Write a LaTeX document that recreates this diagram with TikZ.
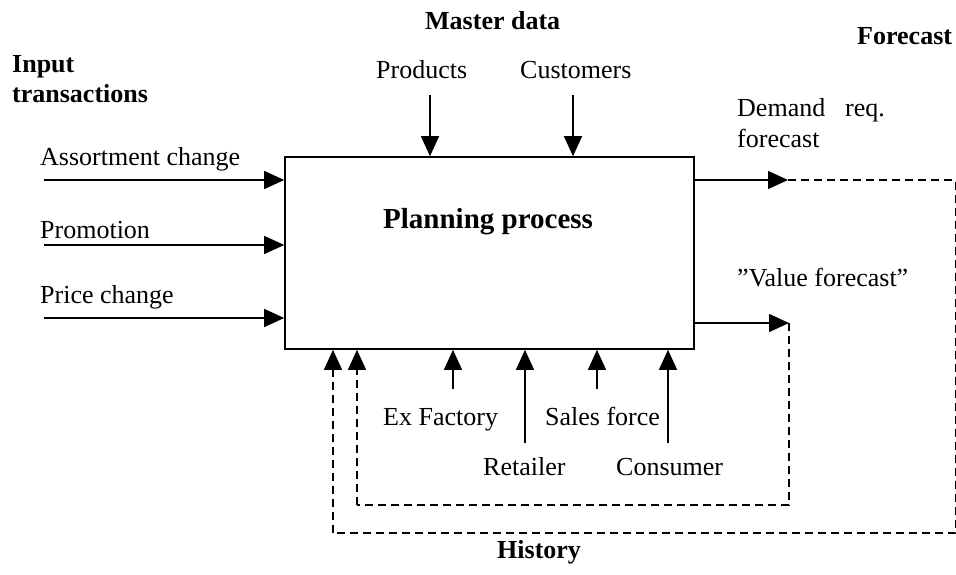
\documentclass[tikz,border=0pt]{standalone}
\usepackage{fontspec}
\setmainfont{Liberation Serif}
\usetikzlibrary{arrows.meta}
\tikzset{
  txt/.style={font=\fontsize{26}{31}\selectfont, inner sep=0pt, anchor=base west},
  head/.style={font=\fontsize{26}{31}\selectfont\bfseries, inner sep=0pt, anchor=base west},
  arr/.style={line width=1.4pt, -{Triangle[length=20pt,width=18pt]}},
  solidline/.style={line width=1.4pt},
  dashline/.style={line width=1.4pt, dash pattern=on 8pt off 5pt},
  dasharr/.style={line width=1.4pt, dash pattern=on 8pt off 5pt, -{Triangle[length=20pt,width=18pt]}},
}
\begin{document}
\begin{tikzpicture}[x=1pt,y=-1pt]
\useasboundingbox (0,0) rectangle (956,575);
% main box
\node[draw, line width=1.6pt, minimum width=409pt, minimum height=192pt, inner sep=0pt] (box) at (489.5,253) {};
\node[font=\fontsize{29}{34}\selectfont\bfseries, inner sep=0pt, anchor=base west] (title) at (383,228) {Planning process};
% headings
\node[head] (inp1) at (12,73) {Input};
\node[head] (inp2) at (12,103) {transactions};
\node[head] (master) at (425,30) {Master data};
\node[head] (fc) at (857,45) {Forecast};
\node[head] (hist) at (497,558) {History};
% inputs left
\node[txt] (l1) at (40,165) {Assortment change};
\node[txt] (l2) at (40,238) {Promotion};
\node[txt] (l3) at (40,303) {Price change};
\coordinate (a1) at (44,180);
\coordinate (a2) at (44,245);
\coordinate (a3) at (44,318);
\draw[arr] (a1) -- (a1 -| box.west);
\draw[arr] (a2) -- (a2 -| box.west);
\draw[arr] (a3) -- (a3 -| box.west);
% master data
\node[txt] (prod) at (376,79) {Products};
\node[txt] (cust) at (520,79) {Customers};
\coordinate (p0) at (430,95);
\coordinate (c0) at (573,95);
\draw[arr] (p0) -- (p0 |- box.north);
\draw[arr] (c0) -- (c0 |- box.north);
% outputs
\node[txt] (dem) at (737,117) {Demand};
\node[txt] (req) at (845,117) {req.};
\node[txt] (dfc) at (737,148) {forecast};
\node[txt] (val) at (737,286) {”Value forecast”};
\coordinate (dtip) at (788,180);
\coordinate (vtip) at (789,323);
\draw[arr] (dtip -| box.east) -- (dtip);
\draw[arr] (vtip -| box.east) -- (vtip);
% bottom inputs
\node[txt] (exf) at (383,425) {Ex Factory};
\node[txt] (sal) at (545,425) {Sales force};
\node[txt] (ret) at (483,475) {Retailer};
\node[txt] (con) at (616,475) {Consumer};
\coordinate (b1) at (453,389);
\coordinate (b2) at (525,443);
\coordinate (b3) at (597,389);
\coordinate (b4) at (668,443);
\draw[arr] (b1) -- (b1 |- box.south);
\draw[arr] (b2) -- (b2 |- box.south);
\draw[arr] (b3) -- (b3 |- box.south);
\draw[arr] (b4) -- (b4 |- box.south);
% history loops
\coordinate (o1) at (955.3,180);
\coordinate (o2) at (955.3,533);
\coordinate (o3) at (333,533);
\coordinate (i1) at (789,505);
\coordinate (i2) at (357,505);
\draw[dashline] (dtip) -- (o1) -- (o2) -- (o3);
\draw[dasharr] (o3) -- (o3 |- box.south);
\draw[dashline] (vtip) -- (i1) -- (i2);
\draw[dasharr] (i2) -- (i2 |- box.south);
\end{tikzpicture}
\end{document}
